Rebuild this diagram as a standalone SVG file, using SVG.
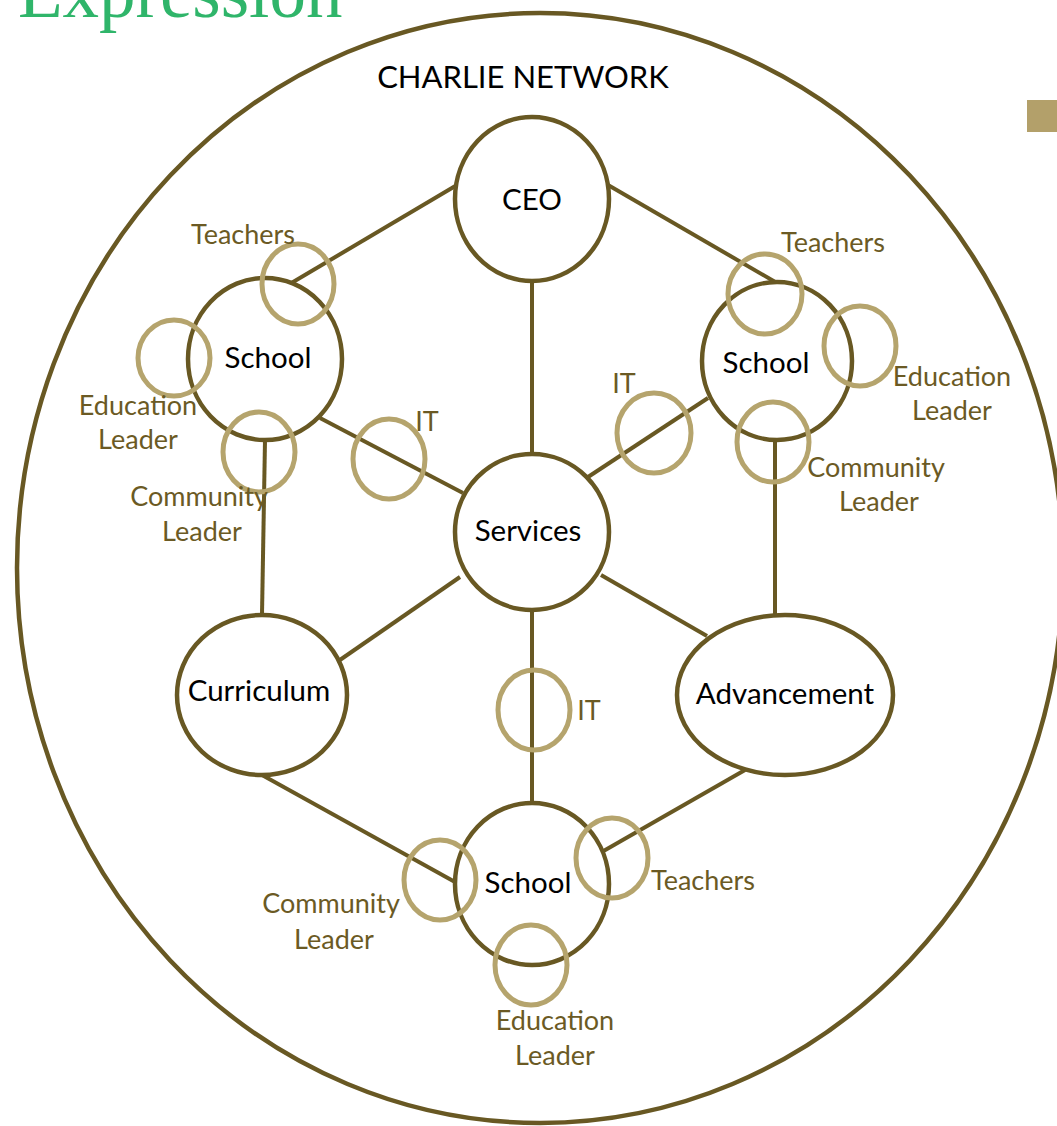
<svg xmlns="http://www.w3.org/2000/svg" width="1057" height="1126" viewBox="0 0 1057 1126">
<style>
.node{fill:#fff;stroke:#685823;stroke-width:4.5}
.ring{fill:none;stroke:#b5a46d;stroke-width:5}
.conn line{stroke:#685823;stroke-width:4}
.nt{font-family:Lato,"Liberation Sans",sans-serif;font-size:29.5px;fill:#000;text-anchor:middle}
.lb{font-family:Lato,"Liberation Sans",sans-serif;font-size:27px;fill:#6b5a24;text-anchor:middle}
</style>
<rect width="1057" height="1126" fill="#fff"/>
<text x="18" y="17" font-family="Liberation Serif,serif" font-size="73" fill="#2fb56a">Expression</text>
<rect x="1027" y="100" width="40" height="32" fill="#b3a06a"/>
<ellipse id="network" cx="540" cy="568" rx="523" ry="555" fill="none" stroke="#685823" stroke-width="4.5"/>
<text x="523" y="88" font-family="Lato,'Liberation Sans',sans-serif" font-size="31" fill="#000" text-anchor="middle">CHARLIE NETWORK</text>
<g class="conn" id="connectors">
<line x1="457" y1="185" x2="288" y2="285"/>
<line x1="608" y1="185" x2="777" y2="283"/>
<line x1="532" y1="281" x2="532" y2="455"/>
<line x1="320" y1="418" x2="463" y2="493"/>
<line x1="708" y1="398" x2="588" y2="477"/>
<line x1="265" y1="440" x2="262" y2="615"/>
<line x1="775" y1="440" x2="775" y2="615"/>
<line x1="460" y1="577" x2="337" y2="662"/>
<line x1="601" y1="575" x2="707" y2="636"/>
<line x1="532" y1="610" x2="532" y2="803"/>
<line x1="262" y1="775" x2="455" y2="882"/>
<line x1="745" y1="770" x2="600" y2="853"/>
</g>
<g id="ceo"><ellipse class="node" cx="532" cy="199" rx="77" ry="82"/><text class="nt" x="532" y="210">CEO</text></g>
<g id="services"><ellipse class="node" cx="532" cy="532" rx="77" ry="78"/><text class="nt" x="528" y="541">Services</text></g>
<g id="school-left"><ellipse class="node" cx="265" cy="359" rx="77" ry="81"/><text class="nt" x="268" y="368">School</text></g>
<g id="school-right"><ellipse class="node" cx="777" cy="361" rx="75" ry="79"/><text class="nt" x="766" y="373">School</text></g>
<g id="curriculum"><ellipse class="node" cx="262" cy="695" rx="85" ry="80"/><text class="nt" x="259" y="701">Curriculum</text></g>
<g id="advancement"><ellipse class="node" cx="785" cy="695" rx="108" ry="80"/><text class="nt" x="785" y="704">Advancement</text></g>
<g id="school-bottom"><ellipse class="node" cx="532" cy="884" rx="77" ry="81"/><text class="nt" x="528" y="893">School</text></g>
<g id="rings">
<ellipse class="ring" cx="298" cy="284" rx="36" ry="40"/>
<ellipse class="ring" cx="174" cy="358" rx="36" ry="38"/>
<ellipse class="ring" cx="259" cy="452" rx="36" ry="40"/>
<ellipse class="ring" cx="389" cy="459" rx="36" ry="40"/>
<ellipse class="ring" cx="765" cy="294" rx="37" ry="40"/>
<ellipse class="ring" cx="860" cy="346" rx="36" ry="40"/>
<ellipse class="ring" cx="773" cy="442" rx="36" ry="40"/>
<ellipse class="ring" cx="654" cy="433" rx="37" ry="40"/>
<ellipse class="ring" cx="534" cy="710" rx="36" ry="40"/>
<ellipse class="ring" cx="440" cy="880" rx="36" ry="40"/>
<ellipse class="ring" cx="612" cy="858" rx="36" ry="40"/>
<ellipse class="ring" cx="531" cy="965" rx="36" ry="40"/>
</g>
<g id="labels">
<text class="lb" x="243" y="244">Teachers</text>
<text class="lb" x="138" y="415">Education</text>
<text class="lb" x="138" y="449">Leader</text>
<text class="lb" x="199" y="506">Community</text>
<text class="lb" x="202" y="541">Leader</text>
<text class="lb" x="427" y="431">IT</text>
<text class="lb" x="833" y="252">Teachers</text>
<text class="lb" x="952" y="386">Education</text>
<text class="lb" x="952" y="420">Leader</text>
<text class="lb" x="876" y="477">Community</text>
<text class="lb" x="879" y="511">Leader</text>
<text class="lb" x="624" y="393">IT</text>
<text class="lb" x="589" y="720">IT</text>
<text class="lb" x="331" y="913">Community</text>
<text class="lb" x="334" y="949">Leader</text>
<text class="lb" x="703" y="890">Teachers</text>
<text class="lb" x="555" y="1030">Education</text>
<text class="lb" x="555" y="1065">Leader</text>
</g>
</svg>
